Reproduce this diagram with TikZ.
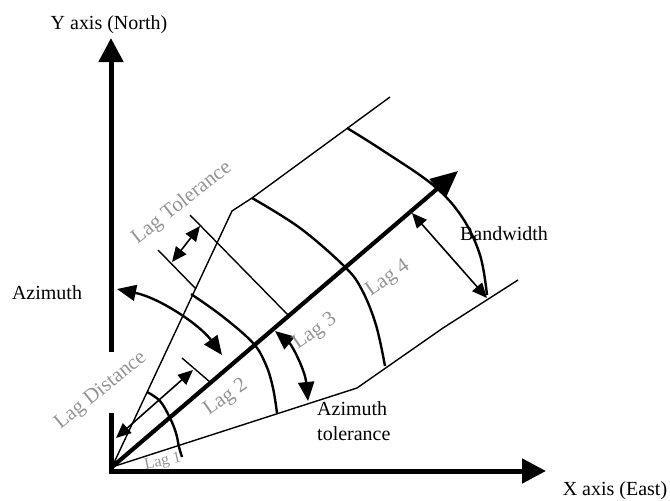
\documentclass[tikz,border=0pt]{standalone}
\usepackage{fontspec}
\setmainfont{Liberation Serif}
\usetikzlibrary{arrows.meta}
\begin{document}
\begin{tikzpicture}[x=1pt,y=-1pt,
  axisline/.style={line width=5pt},
  axisarrow/.style={line width=5pt,-{Triangle[length=24pt,width=24pt]}},
  mainarrow/.style={line width=4.2pt,-{Triangle[length=27pt,width=24pt]}},
  thinline/.style={line width=1.4pt},
  lagarc/.style={line width=2.4pt},
  dimarrow/.style={line width=1.6pt,{Triangle[length=15pt,width=13pt]}-{Triangle[length=15pt,width=13pt]}},
  bigdim/.style={line width=2.4pt,{Triangle[length=19pt,width=16pt]}-{Triangle[length=19pt,width=16pt]}},
  lbl/.style={inner sep=0pt,font=\fontsize{20}{25}\selectfont},
  graylbl/.style={inner sep=0pt,text=black!42,font=\fontsize{21}{24}\selectfont},
]
\useasboundingbox (0,0) rectangle (670,501);

% key points
\coordinate (O) at (112,467);
\coordinate (Ytop) at (111,38);
\coordinate (Xend) at (546,471);
\coordinate (Tip) at (458,171);
\coordinate (K1) at (232,211);
\coordinate (UE) at (390,97);
\coordinate (K2) at (357,388);
\coordinate (LE) at (518,280);

% axes (Y axis interrupted behind the Lag Distance label)
\coordinate (Y0) at (111,473.5);
\coordinate (Ygap1) at (111,413);
\coordinate (Ygap2) at (111,352);
\coordinate (X0) at (108.5,471);
\draw[axisline] (Y0) -- (Ygap1);
\draw[axisarrow] (Ygap2) -- (Ytop);
\draw[axisarrow] (X0) -- (Xend);

% search cone with bandwidth limits
\draw[thinline] (O) -- (K1) -- (252,198) -- (UE);
\draw[thinline] (O) -- (K2) -- (443,328) -- (LE);

% lag boundaries
\draw[lagarc] plot[smooth,tension=0.6] coordinates {(147,392) (160,401) (170,418) (176,433) (179,447) (182,457)};
\draw[lagarc] plot[smooth,tension=0.6] coordinates {(191,294) (222,316) (253,343) (266,365) (273,388) (277,413)};
\draw[lagarc] plot[smooth,tension=0.6] coordinates {(252,198) (300,228) (345,267) (362,290) (376,325) (385,366)};
\draw[lagarc] plot[smooth,tension=0.6] coordinates {(347,128) (382,150) (433,185) (462,217) (480,255) (487,295)};

% lag tolerance lines and lag distance tick
\draw[thinline] (158,250) -- (196,289);
\draw[thinline] (190,215) -- (289,316);
\draw[thinline] (182,358) -- (210,382);

% main direction
\draw[mainarrow] (O) -- (Tip);

% dimension arrows
\draw[dimarrow] (116,438) -- (193,370);
\draw[dimarrow] (200,226) -- (172,262);
\draw[dimarrow] (412,213) -- (487,298);
\draw[bigdim] (117,289) .. controls (160,298) and (200,325) .. (222,355);
\draw[bigdim] (275,331) .. controls (292,345) and (305,370) .. (308,401);

% labels
\node[lbl] (ylab) at (109,25) {Y axis (North)};
\node[lbl] (xlab) at (615,491) {X axis (East)};
\node[lbl] (azlab) at (47,293) {Azimuth};
\node[lbl] (bwlab) at (504,234) {Bandwidth};
\node[lbl,align=left,anchor=north west] (aztlab) at (317,401) {Azimuth\\tolerance};

\node[graylbl,rotate=38] (lagtol) at (182,203) {Lag Tolerance};
\node[graylbl,rotate=39] (lagdist) at (101,391) {Lag Distance};
\node[graylbl,rotate=12,font=\fontsize{16}{18}\selectfont] (lag1) at (163,462) {Lag 1};
\node[graylbl,rotate=35] (lag2) at (226,398) {Lag 2};
\node[graylbl,rotate=35] (lag3) at (315,332) {Lag 3};
\node[graylbl,rotate=35] (lag4) at (388,279) {Lag 4};
\end{tikzpicture}
\end{document}
